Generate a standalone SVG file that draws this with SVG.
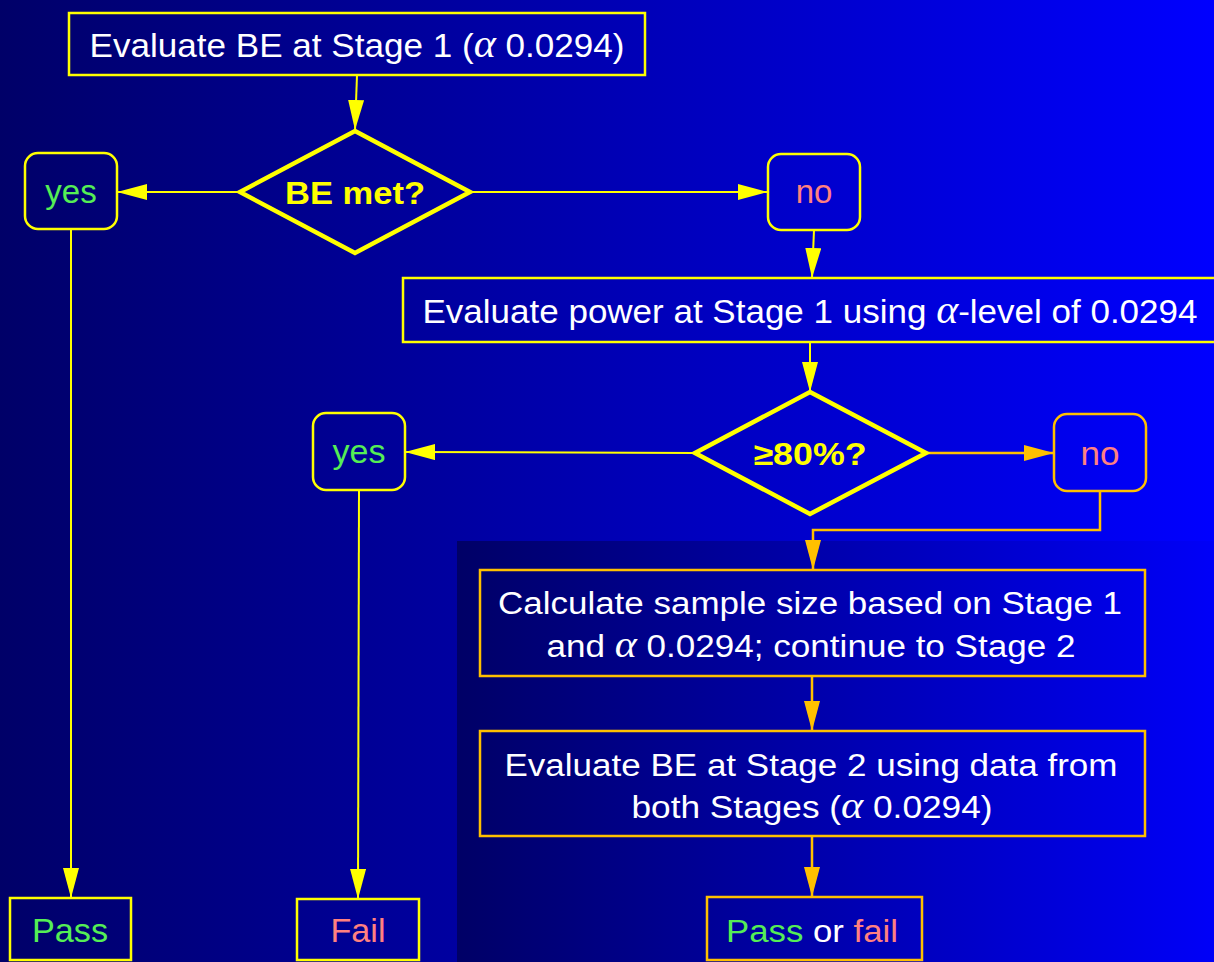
<svg xmlns="http://www.w3.org/2000/svg" width="1214" height="962" viewBox="0 0 1214 962">
<defs>
<linearGradient id="bg" x1="0" y1="0" x2="1" y2="0">
<stop offset="0" stop-color="#000068"/>
<stop offset="1" stop-color="#0000ff"/>
</linearGradient>
<linearGradient id="panel" x1="0" y1="0" x2="1" y2="0">
<stop offset="0" stop-color="#000066"/>
<stop offset="1" stop-color="#0000f8"/>
</linearGradient>
<marker id="ay" markerUnits="userSpaceOnUse" markerWidth="30" markerHeight="16" refX="30" refY="8" orient="auto">
<path d="M0,0 L30,8 L0,16 z" fill="#ffff00"/>
</marker>
<marker id="ao" markerUnits="userSpaceOnUse" markerWidth="30" markerHeight="16" refX="30" refY="8" orient="auto">
<path d="M0,0 L30,8 L0,16 z" fill="#ffc000"/>
</marker>
<style>
.by{fill:none;stroke:#ffff00;stroke-width:2.5}
.bo{fill:none;stroke:#ffc000;stroke-width:2.5}
.dy{fill:none;stroke:#ffff00;stroke-width:4.5;stroke-linejoin:miter}
.cy{fill:none;stroke:#ffff00;stroke-width:2}
.co{fill:none;stroke:#ffc000;stroke-width:2.5}
.t{font-family:"Liberation Sans",Arial,sans-serif;font-size:33px;fill:#ffffff;text-anchor:middle}
.tl{font-family:"Liberation Sans",Arial,sans-serif;font-size:31px;fill:#ffffff;text-anchor:middle}
.a{font-family:"Liberation Serif","Times New Roman",serif;font-style:italic;font-size:1.2em}
.q{font-family:"Liberation Sans",Arial,sans-serif;font-size:31px;font-weight:bold;fill:#ffff00;text-anchor:middle}
.g{fill:#55ee55}
.p{fill:#ff8080}
</style>
</defs>
<rect x="0" y="0" width="1214" height="962" fill="url(#bg)"/>
<rect x="457" y="541" width="757" height="421" fill="url(#panel)"/>

<g id="connectors">
<line class="cy" x1="357" y1="75" x2="355" y2="130" marker-end="url(#ay)"/>
<line class="cy" x1="240" y1="192" x2="117" y2="192" marker-end="url(#ay)"/>
<line class="cy" x1="470" y1="192" x2="768" y2="192" marker-end="url(#ay)"/>
<line class="cy" x1="814" y1="230" x2="812" y2="278" marker-end="url(#ay)"/>
<line class="cy" x1="810" y1="342" x2="810" y2="392" marker-end="url(#ay)"/>
<line class="cy" x1="695" y1="453" x2="405" y2="452" marker-end="url(#ay)"/>
<line class="co" x1="927" y1="453" x2="1054" y2="453" marker-end="url(#ao)"/>
<polyline class="co" points="1100,491 1100,530 813,530 813,570" marker-end="url(#ao)"/>
<line class="co" x1="812" y1="676" x2="812" y2="731" marker-end="url(#ao)"/>
<line class="co" x1="812" y1="836" x2="812" y2="897" marker-end="url(#ao)"/>
<line class="cy" x1="71" y1="229" x2="71" y2="898" marker-end="url(#ay)"/>
<line class="cy" x1="359" y1="490" x2="358" y2="899" marker-end="url(#ay)"/>
</g>

<g id="start">
<rect class="by" x="69" y="13" width="576" height="62"/>
<text class="t" x="357" y="57" textLength="535" lengthAdjust="spacingAndGlyphs">Evaluate BE at Stage 1 (<tspan class="a">α</tspan> 0.0294)</text>
</g>

<g id="be-met">
<polygon class="dy" points="355,131 470,192 355,253 240,192"/>
<text class="q" x="355" y="204" textLength="140" lengthAdjust="spacingAndGlyphs">BE met?</text>
</g>

<g id="yes1">
<rect class="by" x="25" y="153" width="92" height="76" rx="13"/>
<text class="t g" x="71" y="203">yes</text>
</g>

<g id="no1">
<rect class="by" x="768" y="154" width="92" height="76" rx="13"/>
<text class="t p" x="814" y="203">no</text>
</g>

<g id="power">
<rect class="by" x="403" y="278" width="813" height="64"/>
<text class="t" x="810" y="323" textLength="775" lengthAdjust="spacingAndGlyphs">Evaluate power at Stage 1 using <tspan class="a">α</tspan>-level of 0.0294</text>
</g>

<g id="power-ok">
<polygon class="dy" points="810,392 926,453 810,514 695,453"/>
<text class="q" x="810" y="465" textLength="113" lengthAdjust="spacingAndGlyphs">≥80%?</text>
</g>

<g id="yes2">
<rect class="by" x="313" y="413" width="92" height="77" rx="13"/>
<text class="t g" x="359" y="463" textLength="53" lengthAdjust="spacingAndGlyphs">yes</text>
</g>

<g id="no2">
<rect class="bo" x="1054" y="414" width="92" height="77" rx="13"/>
<text class="t p" x="1100" y="465" textLength="39" lengthAdjust="spacingAndGlyphs">no</text>
</g>

<g id="sample-size">
<rect class="bo" x="480" y="570" width="665" height="106"/>
<text class="tl" x="810" y="614" textLength="624" lengthAdjust="spacingAndGlyphs">Calculate sample size based on Stage 1</text>
<text class="tl" x="811" y="657" textLength="529" lengthAdjust="spacingAndGlyphs">and <tspan class="a">α</tspan> 0.0294; continue to Stage 2</text>
</g>

<g id="stage2">
<rect class="bo" x="480" y="731" width="665" height="105"/>
<text class="tl" x="811" y="776" textLength="613" lengthAdjust="spacingAndGlyphs">Evaluate BE at Stage 2 using data from</text>
<text class="tl" x="812" y="818" textLength="361" lengthAdjust="spacingAndGlyphs">both Stages (<tspan class="a">α</tspan> 0.0294)</text>
</g>

<g id="pass">
<rect class="by" x="10" y="898" width="121" height="62"/>
<text class="t g" x="70" y="942" textLength="76" lengthAdjust="spacingAndGlyphs">Pass</text>
</g>

<g id="fail">
<rect class="by" x="297" y="899" width="122" height="61"/>
<text class="t p" x="358" y="942" textLength="55" lengthAdjust="spacingAndGlyphs">Fail</text>
</g>

<g id="pass-or-fail">
<rect class="bo" x="707" y="897" width="215" height="63"/>
<text class="tl" x="812" y="942" textLength="172" lengthAdjust="spacingAndGlyphs"><tspan class="g">Pass</tspan> or <tspan class="p">fail</tspan></text>
</g>
</svg>
